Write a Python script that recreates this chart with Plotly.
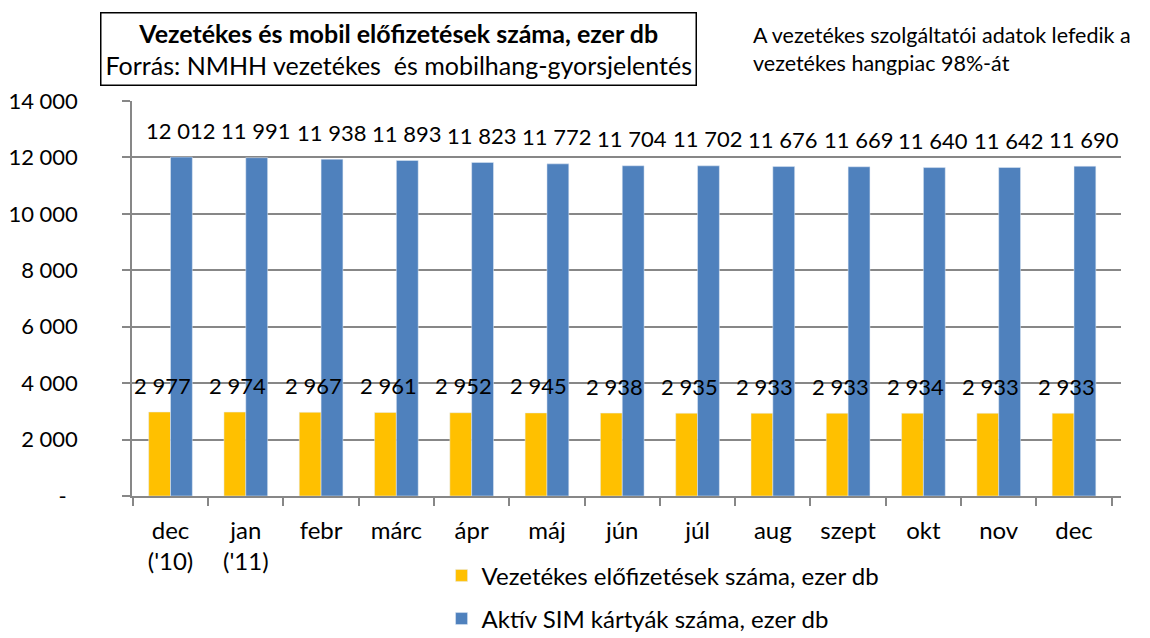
import plotly.graph_objects as go

categories = ["dec<br>('10)", "jan<br>('11)", "febr", "márc", "ápr", "máj", "jún",
              "júl", "aug", "szept", "okt", "nov", "dec"]
vezetekes = [2977, 2974, 2967, 2961, 2952, 2945, 2938, 2935, 2933, 2933, 2934, 2933, 2933]
sim = [12012, 11991, 11938, 11893, 11823, 11772, 11704, 11702, 11676, 11669, 11640, 11642, 11690]
ytick_vals = [0, 2000, 4000, 6000, 8000, 10000, 12000, 14000]
ytick_text = ["-\u00a0\u00a0", "2 000", "4 000", "6 000", "8 000", "10 000", "12 000", "14 000"]

name1 = "Vezetékes előfizetések száma, ezer db"
name2 = "Aktív SIM kártyák száma, ezer db"

FONT = "Lato, 'Open Sans', sans-serif"
YELLOW = "#FFC000"
BLUE = "#4F81BD"
GRID = "#878787"

def fmt(v):
    return f"{v:,}".replace(",", " ")

fig = go.Figure()
fig.add_trace(go.Bar(x=categories, y=vezetekes, name=name1, marker_color=YELLOW,
                     legendgroup="a"))
fig.add_trace(go.Bar(x=categories, y=sim, name=name2, marker_color=BLUE,
                     legendgroup="b"))

annotations = []
for c, v in zip(categories, vezetekes):
    annotations.append(dict(x=c, y=v, xref="x", yref="y", text=fmt(v), showarrow=False,
                            xshift=-8, yshift=27, font=dict(size=22, color="black", family=FONT)))
for c, v in zip(categories, sim):
    annotations.append(dict(x=c, y=v, xref="x", yref="y", text=fmt(v), showarrow=False,
                            xshift=10, yshift=27, font=dict(size=22, color="black", family=FONT)))

# page body has an 8px margin; figure drawn from (8, 8)
OFF = 8
W, H = 1150 - OFF, 638 - OFF
L, R, T, B = 132 - OFF, 29, 101 - OFF, 638 - 496
pw, ph = W - L - R, H - T - B
def px_to_paper(xp, yp):
    return (xp - OFF - L) / pw, (H - B - (yp - OFF)) / ph

ax, ay = px_to_paper(398.5, 49.5)
annotations.append(dict(
    x=ax, y=ay, xref="paper", yref="paper", showarrow=False, xanchor="center", yanchor="middle",
    text="<b>Vezetékes és mobil előfizetések száma, ezer db</b><br>Forrás: NMHH vezetékes  és mobilhang-gyorsjelentés",
    font=dict(size=25, color="black", family=FONT), align="center",
    bordercolor="black", borderwidth=1.5, borderpad=4, bgcolor="white"))
bx, by = px_to_paper(752, 49)
annotations.append(dict(
    x=bx, y=by, xref="paper", yref="paper", showarrow=False, xanchor="left", yanchor="middle",
    text="A vezetékes szolgáltatói adatok lefedik a<br>vezetékes hangpiac 98%-át",
    font=dict(size=21.5, color="black", family=FONT), align="left", borderpad=0))

fig.update_layout(
    width=W, height=H,
    margin=dict(l=L, r=R, t=T, b=B, autoexpand=False),
    paper_bgcolor="white", plot_bgcolor="white",
    barmode="group", bargap=0.42, bargroupgap=0,
    font=dict(family=FONT, size=22, color="black"),
    annotations=annotations,
    showlegend=True,
    legend=dict(orientation="v", x=0.313, xanchor="left", y=-0.145, yanchor="top",
                font=dict(size=24, family=FONT, color="black"),
                tracegroupgap=9, traceorder="grouped", bgcolor="rgba(0,0,0,0)"),
)
fig.update_xaxes(type="category", showline=True, linecolor=GRID, linewidth=1.5,
                 ticks="outside", tickson="boundaries", ticklen=8, tickcolor=GRID, tickwidth=1.5,
                 showgrid=False, tickfont=dict(size=24, family=FONT, color="black"),
                 ticklabelstandoff=12, automargin=False)
fig.update_yaxes(range=[0, 14000], tickvals=ytick_vals, ticktext=ytick_text,
                 showline=True, linecolor=GRID, linewidth=1.5,
                 ticks="outside", ticklen=8, tickcolor=GRID, tickwidth=1.5,
                 showgrid=True, gridcolor=GRID, gridwidth=1.5,
                 tickfont=dict(size=22, family=FONT, color="black"),
                 ticklabelstandoff=40, zeroline=False, automargin=False)

fig.write_html("out.html")
